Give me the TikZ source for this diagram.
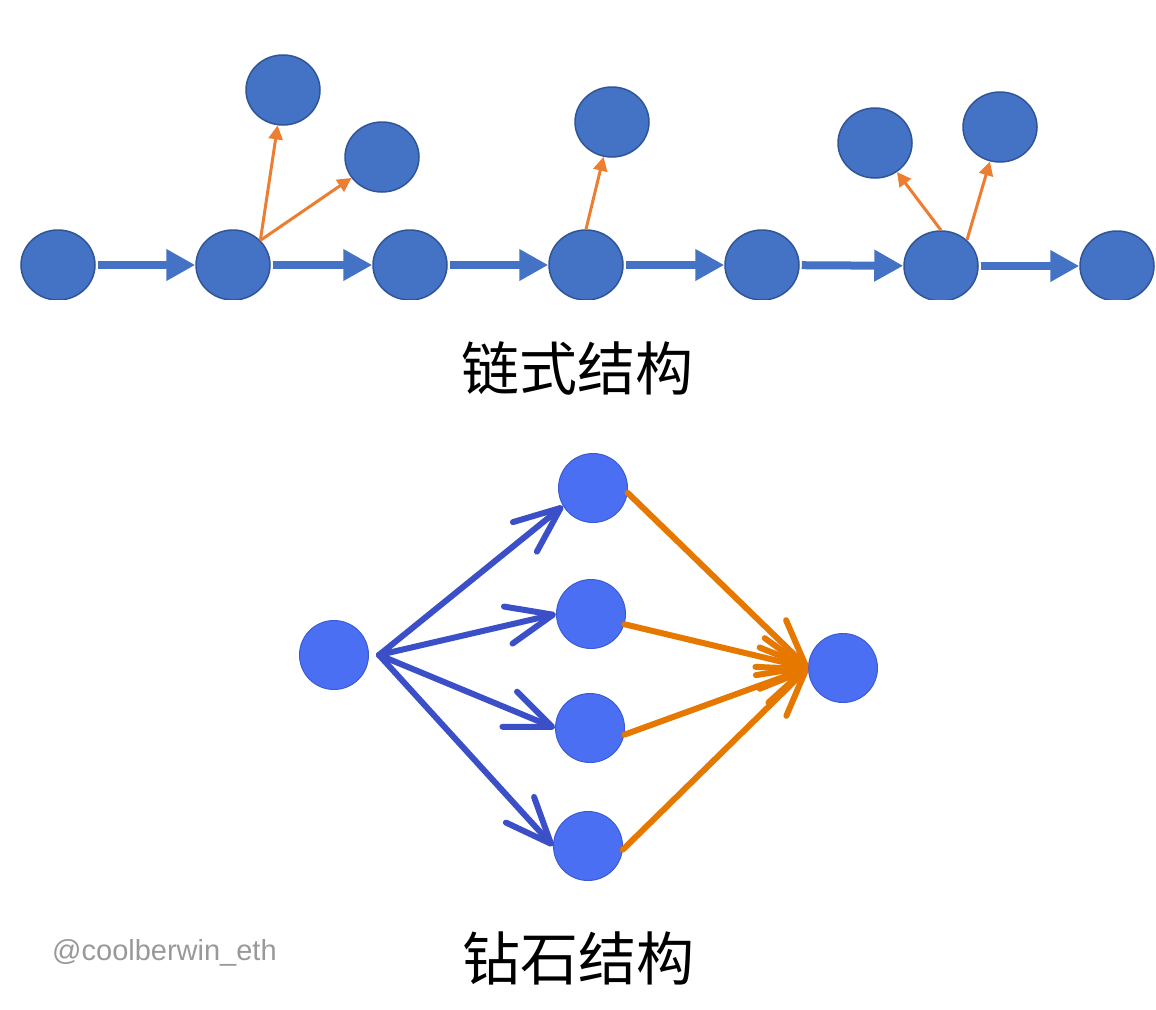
\documentclass[tikz,border=0pt]{standalone}
\usepackage{fontspec}
\newfontfamily\cjk{Noto Sans CJK SC}
\newfontfamily\wmfont{Liberation Sans}
\usetikzlibrary{arrows.meta,shapes.geometric}

\definecolor{chainblue}{HTML}{4472C4}
\definecolor{chainedge}{HTML}{2F5597}
\definecolor{chainorange}{HTML}{ED7D31}
\definecolor{gemblue}{HTML}{4A6FF2}
\definecolor{gemedge}{HTML}{3B5BD6}
\definecolor{gemarrow}{HTML}{3A4FC8}
\definecolor{gemorange}{HTML}{E67800}
\definecolor{markgray}{HTML}{999999}

\begin{document}
\begin{tikzpicture}[x=1pt,y=-1pt,
  chainnode/.style={ellipse,fill=chainblue,draw=chainedge,line width=1.5pt,
    minimum width=74pt,minimum height=70pt,inner sep=0pt},
  gemnode/.style={circle,fill=gemblue,draw=gemedge,line width=1pt,
    minimum size=69pt,inner sep=0pt},
  link/.style={chainblue,line width=8pt,shorten <=2pt,
    -{Triangle[length=29pt,width=30pt]}},
  branch/.style={chainorange,line width=3pt,
    -{Triangle[length=14pt,width=14pt]}},
  fanout/.style={gemarrow,line width=6pt,line cap=round,
    -{Straight Barb[length=46pt,width=38pt,round]}},
  fanin/.style={gemorange,line width=6pt,line cap=round,
    -{Straight Barb[length=46pt,width=38pt,round]}},
  title/.style={font=\cjk\fontsize{58pt}{58pt}\selectfont}]

\useasboundingbox (0,0) rectangle (1156,1009); %% page

%% chain
\begin{scope}
\clip (0,0) rectangle (1156,299);
\node[chainnode] (c1) at (58,265) {};
\node[chainnode] (c2) at (233,265) {};
\node[chainnode] (c3) at (410,265) {};
\node[chainnode] (c4) at (586,265) {};
\node[chainnode] (c5) at (762,265) {};
\node[chainnode] (c6) at (941,266) {};
\node[chainnode] (c7) at (1117,266) {};

\node[chainnode] (t1) at (283,90) {};
\node[chainnode] (t2) at (382,157) {};
\node[chainnode] (t3) at (612,122) {};
\node[chainnode] (t4) at (875,143) {};
\node[chainnode] (t5) at (1000,127) {};

\draw[link] (c1) -- (c2);
\draw[link] (c2) -- (c3);
\draw[link] (c3) -- (c4);
\draw[link] (c4) -- (c5);
\draw[link] (c5) -- (c6);
\draw[link] (c6) -- (c7);

\draw[branch] (c2.42) -- (t1);
\draw[branch] (c2.42) -- (t2);
\draw[branch] (c4.north) -- (t3);
\draw[branch] (c6.north) -- (t4);
\draw[branch] (c6.45) -- (t5);
\end{scope}

\node[title] (chaintitle) at (577,368) {链式结构};

%% diamond
\node[gemnode] (src) at (334,655) {};
\node[gemnode] (m1) at (593,488) {};
\node[gemnode] (m2) at (591,614) {};
\node[gemnode] (m3) at (590,728) {};
\node[gemnode] (m4) at (588,846) {};
\node[gemnode] (sink) at (843,668) {};
\coordinate (fan) at ([xshift=10pt]src.east);

\draw[fanout] (fan) -- (m1.211);
\draw[fanout] (fan) -- (m2.west);
\draw[fanout] (fan) -- (m3.west);
\draw[fanout] (fan) -- (m4.west);

\draw[fanin] (m1.-8) -- (sink.west);
\draw[fanin] (m2.-17) -- (sink.west);
\draw[fanin] (m3.-11) -- (sink.west);
\draw[fanin] (m4.-6) -- (sink.west);

\node[title] (gemtitle) at (578,958) {钻石结构};
\node[font=\wmfont\fontsize{29pt}{29pt}\selectfont,text=markgray,
  anchor=west,inner sep=0pt] (mark) at (52,953) {@coolberwin\_eth};

\end{tikzpicture}
\end{document}
